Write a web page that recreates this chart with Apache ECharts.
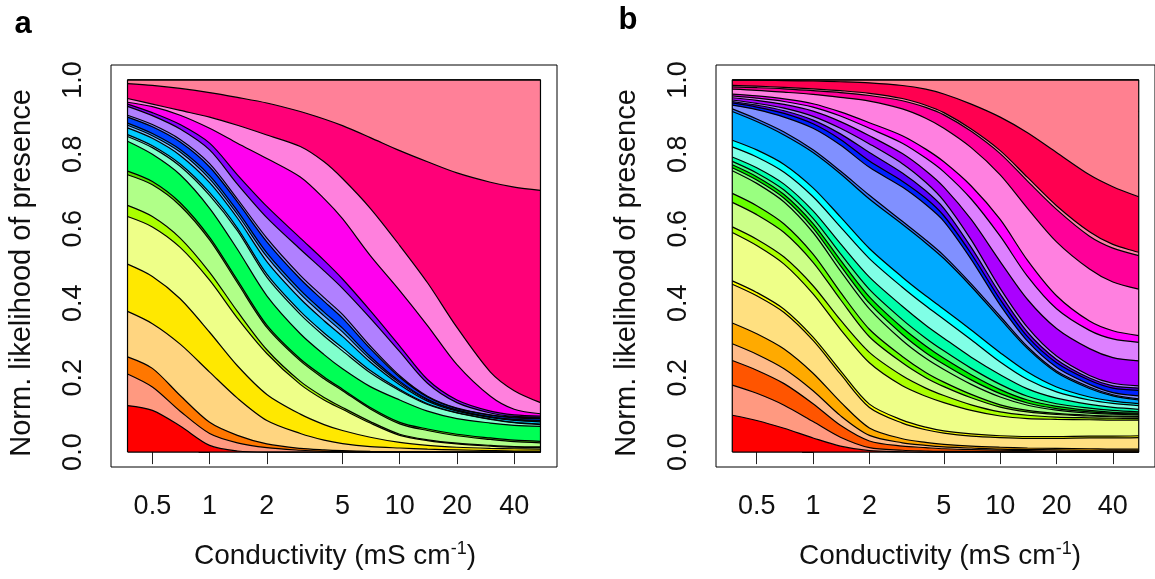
<!DOCTYPE html>
<html>
<head>
<meta charset="utf-8">
<script src="https://cdn.jsdelivr.net/npm/echarts@6/dist/echarts.min.js"></script>
<style>
  html, body { margin: 0; padding: 0; background: #ffffff; }
  #chart { width: 1155px; height: 579px; }
</style>
</head>
<body>
<div id="chart"></div>
<script>
// Conductivity values (mS cm-1) at which every band edge is given
const conductivity = [0.37, 0.5, 0.7, 1, 1.4, 2, 3, 4, 5, 7, 10, 14, 20, 30, 40, 55];
const xTicks = [0.5, 1, 2, 5, 10, 20, 40];
const yTicks = [0, 0.2, 0.4, 0.6, 0.8, 1.0];

// ---- Panel a: cumulative upper edge of each band (top band first) ----
const a_moina    = [1, 1, 1, 1, 1, 1, 1, 1, 1, 1, 1, 1, 1, 1, 1, 1];
const a_arcto    = [0.990, 0.985, 0.977, 0.966, 0.953, 0.938, 0.915, 0.895, 0.877, 0.845, 0.810, 0.780, 0.750, 0.725, 0.712, 0.703];
const a_pink     = [0.950, 0.935, 0.918, 0.900, 0.878, 0.852, 0.821, 0.780, 0.735, 0.655, 0.555, 0.455, 0.335, 0.215, 0.165, 0.133];
const a_magenta  = [0.940, 0.928, 0.905, 0.870, 0.830, 0.789, 0.739, 0.681, 0.627, 0.528, 0.434, 0.340, 0.235, 0.150, 0.115, 0.103];
const a_violet   = [0.935, 0.912, 0.880, 0.830, 0.745, 0.660, 0.575, 0.515, 0.465, 0.380, 0.285, 0.195, 0.140, 0.110, 0.100, 0.097];
const a_lpurple  = [0.929, 0.904, 0.868, 0.812, 0.720, 0.630, 0.545, 0.487, 0.440, 0.360, 0.270, 0.185, 0.133, 0.105, 0.096, 0.094];
const a_peri     = [0.905, 0.880, 0.840, 0.775, 0.680, 0.575, 0.475, 0.415, 0.370, 0.285, 0.205, 0.150, 0.118, 0.100, 0.094, 0.092];
const a_blue     = [0.900, 0.874, 0.833, 0.766, 0.672, 0.565, 0.465, 0.405, 0.360, 0.278, 0.201, 0.148, 0.117, 0.099, 0.092, 0.090];
const a_steel    = [0.884, 0.856, 0.813, 0.743, 0.648, 0.535, 0.435, 0.376, 0.333, 0.257, 0.190, 0.142, 0.113, 0.095, 0.088, 0.085];
const a_lblue    = [0.878, 0.850, 0.806, 0.734, 0.639, 0.525, 0.425, 0.366, 0.323, 0.250, 0.186, 0.140, 0.112, 0.094, 0.087, 0.083];
const a_cyan     = [0.871, 0.843, 0.797, 0.724, 0.629, 0.512, 0.412, 0.353, 0.311, 0.242, 0.181, 0.137, 0.110, 0.093, 0.085, 0.081];
const a_lcyan    = [0.853, 0.823, 0.774, 0.697, 0.602, 0.478, 0.378, 0.320, 0.280, 0.219, 0.168, 0.130, 0.106, 0.089, 0.080, 0.075];
const a_aqua     = [0.848, 0.818, 0.768, 0.690, 0.595, 0.470, 0.370, 0.312, 0.272, 0.213, 0.165, 0.128, 0.105, 0.088, 0.079, 0.074];
const a_green    = [0.835, 0.800, 0.745, 0.655, 0.545, 0.420, 0.318, 0.262, 0.224, 0.176, 0.140, 0.110, 0.090, 0.078, 0.072, 0.069];
const a_dgreen   = [0.755, 0.727, 0.670, 0.577, 0.462, 0.341, 0.250, 0.202, 0.169, 0.120, 0.080, 0.062, 0.048, 0.038, 0.032, 0.029];
const a_lgreen   = [0.745, 0.718, 0.662, 0.570, 0.455, 0.335, 0.245, 0.197, 0.165, 0.116, 0.076, 0.058, 0.044, 0.034, 0.028, 0.025];
const a_yg       = [0.663, 0.633, 0.575, 0.483, 0.378, 0.275, 0.190, 0.147, 0.120, 0.082, 0.048, 0.033, 0.024, 0.018, 0.015, 0.014];
const a_lyellow  = [0.633, 0.605, 0.550, 0.462, 0.360, 0.265, 0.182, 0.140, 0.115, 0.078, 0.045, 0.031, 0.022, 0.016, 0.013, 0.012];
const a_yellow   = [0.505, 0.472, 0.412, 0.322, 0.232, 0.155, 0.102, 0.074, 0.058, 0.040, 0.026, 0.018, 0.013, 0.010, 0.009, 0.008];
const a_lorange  = [0.378, 0.345, 0.290, 0.215, 0.145, 0.085, 0.050, 0.032, 0.023, 0.015, 0.011, 0.008, 0.006, 0.004, 0.003, 0.003];
const a_orange   = [0.256, 0.225, 0.152, 0.080, 0.045, 0.022, 0.010, 0.006, 0.004, 0.002, 0.001, 0.001, 0, 0, 0, 0];
const a_salmon   = [0.210, 0.175, 0.110, 0.050, 0.025, 0.012, 0.005, 0.002, 0.001, 0, 0, 0, 0, 0, 0, 0];
const a_red      = [0.125, 0.112, 0.070, 0.018, 0.003, 0, 0, 0, 0, 0, 0, 0, 0, 0, 0, 0];

// ---- Panel b: cumulative upper edge of each band (top band first) ----
const b_brach    = [1, 1, 1, 1, 1, 1, 1, 1, 1, 1, 1, 1, 1, 1, 1, 1];
const b_crimson  = [0.999, 0.999, 0.998, 0.997, 0.995, 0.992, 0.985, 0.975, 0.962, 0.935, 0.900, 0.858, 0.805, 0.745, 0.713, 0.686];
const b_lpink    = [0.985, 0.983, 0.980, 0.976, 0.971, 0.964, 0.950, 0.932, 0.912, 0.868, 0.810, 0.738, 0.662, 0.592, 0.558, 0.537];
const b_hotpink  = [0.981, 0.979, 0.976, 0.971, 0.966, 0.958, 0.944, 0.926, 0.906, 0.862, 0.802, 0.728, 0.652, 0.580, 0.548, 0.528];
const b_pink     = [0.975, 0.972, 0.967, 0.961, 0.953, 0.943, 0.922, 0.897, 0.870, 0.818, 0.745, 0.655, 0.565, 0.492, 0.457, 0.438];
const b_magenta  = [0.962, 0.957, 0.949, 0.936, 0.914, 0.885, 0.850, 0.814, 0.780, 0.715, 0.625, 0.515, 0.420, 0.352, 0.326, 0.313];
const b_lpurple  = [0.957, 0.951, 0.942, 0.927, 0.903, 0.870, 0.830, 0.790, 0.753, 0.680, 0.580, 0.472, 0.385, 0.327, 0.304, 0.295];
const b_violet   = [0.952, 0.945, 0.934, 0.916, 0.888, 0.850, 0.802, 0.756, 0.712, 0.625, 0.512, 0.410, 0.332, 0.278, 0.254, 0.245];
const b_lavender = [0.946, 0.937, 0.924, 0.902, 0.870, 0.828, 0.775, 0.725, 0.675, 0.570, 0.440, 0.335, 0.258, 0.206, 0.185, 0.178];
const b_bviolet  = [0.942, 0.932, 0.917, 0.892, 0.855, 0.805, 0.750, 0.702, 0.655, 0.550, 0.425, 0.322, 0.249, 0.199, 0.178, 0.172];
const b_blue     = [0.938, 0.927, 0.910, 0.882, 0.840, 0.782, 0.728, 0.682, 0.635, 0.533, 0.410, 0.310, 0.240, 0.193, 0.172, 0.166];
const b_peri     = [0.932, 0.920, 0.900, 0.870, 0.825, 0.765, 0.712, 0.665, 0.620, 0.518, 0.395, 0.298, 0.228, 0.182, 0.160, 0.151];
const b_steel    = [0.922, 0.895, 0.860, 0.812, 0.755, 0.690, 0.620, 0.570, 0.528, 0.452, 0.365, 0.283, 0.218, 0.175, 0.154, 0.143];
const b_azure    = [0.915, 0.888, 0.852, 0.805, 0.748, 0.680, 0.612, 0.562, 0.520, 0.445, 0.358, 0.278, 0.214, 0.171, 0.151, 0.140];
const b_cyan     = [0.838, 0.812, 0.773, 0.710, 0.632, 0.547, 0.470, 0.420, 0.384, 0.328, 0.267, 0.215, 0.175, 0.148, 0.137, 0.130];
const b_lcyan    = [0.820, 0.793, 0.752, 0.686, 0.605, 0.520, 0.443, 0.393, 0.357, 0.302, 0.242, 0.195, 0.162, 0.140, 0.131, 0.125];
const b_seagreen = [0.793, 0.764, 0.720, 0.648, 0.560, 0.470, 0.392, 0.341, 0.306, 0.255, 0.208, 0.170, 0.145, 0.128, 0.120, 0.115];
const b_green3   = [0.781, 0.750, 0.704, 0.628, 0.533, 0.437, 0.356, 0.306, 0.272, 0.225, 0.182, 0.150, 0.130, 0.118, 0.112, 0.108];
const b_green2   = [0.772, 0.740, 0.692, 0.614, 0.516, 0.417, 0.334, 0.285, 0.252, 0.208, 0.168, 0.140, 0.123, 0.112, 0.107, 0.105];
const b_green1   = [0.764, 0.731, 0.682, 0.602, 0.501, 0.400, 0.316, 0.267, 0.236, 0.194, 0.157, 0.132, 0.117, 0.108, 0.104, 0.102];
const b_lgreen   = [0.756, 0.722, 0.672, 0.590, 0.487, 0.385, 0.300, 0.252, 0.222, 0.182, 0.148, 0.126, 0.113, 0.105, 0.102, 0.100];
const b_bgreen   = [0.695, 0.662, 0.613, 0.532, 0.430, 0.330, 0.257, 0.214, 0.188, 0.155, 0.127, 0.112, 0.104, 0.099, 0.097, 0.096];
const b_lyg      = [0.671, 0.638, 0.590, 0.510, 0.410, 0.310, 0.240, 0.200, 0.176, 0.146, 0.121, 0.108, 0.101, 0.097, 0.095, 0.094];
const b_yg       = [0.605, 0.572, 0.524, 0.447, 0.355, 0.268, 0.205, 0.172, 0.152, 0.127, 0.108, 0.099, 0.094, 0.092, 0.091, 0.090];
const b_lyellow  = [0.590, 0.555, 0.505, 0.425, 0.330, 0.240, 0.178, 0.150, 0.133, 0.112, 0.097, 0.090, 0.088, 0.087, 0.086, 0.086];
const b_yellow   = [0.460, 0.429, 0.384, 0.309, 0.219, 0.129, 0.086, 0.067, 0.057, 0.049, 0.044, 0.042, 0.042, 0.043, 0.043, 0.044];
const b_lorange  = [0.451, 0.420, 0.375, 0.300, 0.210, 0.120, 0.078, 0.060, 0.051, 0.043, 0.039, 0.037, 0.037, 0.038, 0.038, 0.039];
const b_orange   = [0.347, 0.318, 0.277, 0.212, 0.135, 0.065, 0.036, 0.026, 0.021, 0.016, 0.013, 0.011, 0.010, 0.009, 0.008, 0.008];
const b_peach    = [0.291, 0.263, 0.224, 0.165, 0.098, 0.045, 0.025, 0.018, 0.014, 0.011, 0.008, 0.007, 0.006, 0.005, 0.005, 0.005];
const b_dorange  = [0.246, 0.220, 0.184, 0.130, 0.072, 0.030, 0.016, 0.012, 0.009, 0.007, 0.005, 0.004, 0.003, 0.003, 0.003, 0.003];
const b_salmon   = [0.180, 0.158, 0.126, 0.082, 0.040, 0.012, 0.005, 0.003, 0.002, 0.002, 0.001, 0.001, 0, 0, 0, 0];
const b_red      = [0.099, 0.085, 0.064, 0.038, 0.016, 0.004, 0.001, 0, 0, 0, 0, 0, 0, 0, 0, 0];

// Band fill colours, drawn from the top band down
const panelA = [
  [a_moina, '#FF8098'], [a_arcto, '#FF0078'], [a_pink, '#FF80DD'], [a_magenta, '#FF00EE'],
  [a_violet, '#8800FF'], [a_lpurple, '#B080FF'], [a_peri, '#8080FF'], [a_blue, '#0044FF'],
  [a_steel, '#2288FF'], [a_lblue, '#80C0FF'], [a_cyan, '#00CCFF'], [a_lcyan, '#80F0FF'],
  [a_aqua, '#80FFCC'], [a_green, '#00FF55'], [a_dgreen, '#55DD00'], [a_lgreen, '#B0FF88'],
  [a_yg, '#AAFF00'], [a_lyellow, '#EEFF88'], [a_yellow, '#FFE800'], [a_lorange, '#FFD580'],
  [a_orange, '#FF7700'], [a_salmon, '#FF9980'], [a_red, '#FF0000']
];
const panelB = [
  [b_brach, '#FF8090'], [b_crimson, '#FF0050'], [b_lpink, '#FF80A8'], [b_hotpink, '#FF0099'],
  [b_pink, '#FF80E0'], [b_magenta, '#FF00FF'], [b_lpurple, '#DD80FF'], [b_violet, '#AA00FF'],
  [b_lavender, '#AA80FF'], [b_bviolet, '#5500FF'], [b_blue, '#0022FF'], [b_peri, '#8090FF'],
  [b_steel, '#3377FF'], [b_azure, '#00AAFF'], [b_cyan, '#00FFFF'], [b_lcyan, '#80FFE6'],
  [b_seagreen, '#00FFAA'], [b_green3, '#40FF80'], [b_green2, '#00EE00'], [b_green1, '#80FF80'],
  [b_lgreen, '#99FF80'], [b_bgreen, '#66FF00'], [b_lyg, '#CCFF88'], [b_yg, '#AAFF00'],
  [b_lyellow, '#EEFF88'], [b_yellow, '#FFFF00'], [b_lorange, '#FFE080'], [b_orange, '#FFAA00'],
  [b_peach, '#FFBB88'], [b_dorange, '#FF5500'], [b_salmon, '#FF9980'], [b_red, '#FF0000']
];

const FONT = '"Liberation Sans", Arial, Helvetica, sans-serif';
const logX = conductivity.map(c => Math.log10(c));
const lo = logX[0], hi = logX[logX.length - 1];
const pad = 0.04 * (hi - lo);

function tickLabel(v) {
  return String(+Math.pow(10, v).toPrecision(2));
}

function axesFor(i) {
  return {
    x: {
      type: 'value', gridIndex: i, min: lo - pad, max: hi + pad,
      axisLine: { show: false }, splitLine: { show: false },
      axisTick: { show: true, length: 12, customValues: xTicks.map(Math.log10), lineStyle: { color: '#222', width: 1 } },
      axisLabel: { customValues: xTicks.map(Math.log10), formatter: tickLabel, fontSize: 27, fontFamily: FONT, color: '#111', margin: 26 }
    },
    y: {
      type: 'value', gridIndex: i, min: -0.04, max: 1.04,
      axisLine: { show: false }, splitLine: { show: false },
      axisTick: { show: true, length: 11, customValues: yTicks, lineStyle: { color: '#222', width: 1 } },
      axisLabel: { customValues: yTicks, rotate: 90, formatter: v => v.toFixed(1), fontSize: 27, fontFamily: FONT, color: '#111', margin: 24 }
    }
  };
}

function bandSeries(bands, idx) {
  const out = bands.map(([edge, color]) => ({
    type: 'line', xAxisIndex: idx, yAxisIndex: idx,
    data: logX.map((x, k) => [x, edge[k]]),
    smooth: 0.3, symbol: 'none', silent: true,
    lineStyle: { color: '#000', width: 1.2 },
    areaStyle: { color: color, opacity: 1, origin: 'auto' }
  }));
  // outline of the stacked region
  out.push({
    type: 'line', xAxisIndex: idx, yAxisIndex: idx, symbol: 'none', silent: true,
    data: [[lo, 0], [lo, 1], [hi, 1], [hi, 0], [lo, 0]],
    lineStyle: { color: '#000', width: 1.2 }
  });
  return out;
}

const ax0 = axesFor(0), ax1 = axesFor(1);
const chart = echarts.init(document.getElementById('chart'), null, { renderer: 'canvas' });

const xTitle = (cx) => ({
  type: 'text', x: cx, y: 556,
  style: {
    text: '{t|Conductivity (mS cm}{s|-1}{t|)}',
    align: 'center', verticalAlign: 'middle',
    rich: {
      t: { fontSize: 28, fontFamily: FONT, fill: '#111', lineHeight: 32 },
      s: { fontSize: 18, fontFamily: FONT, fill: '#111', verticalAlign: 'top', lineHeight: 32, padding: [0, 0, 10, 0] }
    }
  }
});
const yTitle = (cx) => ({
  type: 'text', x: cx, y: 273, rotation: Math.PI / 2,
  style: { text: 'Norm. likelihood of presence', font: '29px ' + FONT, fill: '#111', align: 'center', verticalAlign: 'middle' }
});
const note = (x, y, t) => ({
  type: 'text', x: x, y: y,
  style: { text: t, font: 'italic 16px ' + FONT, fill: '#111', align: 'center', verticalAlign: 'top' }
});

chart.setOption({
  animation: false,
  backgroundColor: '#ffffff',
  grid: [
    { left: 111, top: 65, width: 446, height: 402, show: true, borderColor: '#000', borderWidth: 1, backgroundColor: 'transparent', containLabel: false },
    { left: 716, top: 65, width: 446, height: 402, show: true, borderColor: '#000', borderWidth: 1, backgroundColor: 'transparent', containLabel: false }
  ],
  xAxis: [ax0.x, ax1.x],
  yAxis: [ax0.y, ax1.y],
  series: bandSeries(panelA, 0).concat(bandSeries(panelB, 1)),
  graphic: [
    { type: 'text', x: 23, y: 9, style: { text: 'a', font: 'bold 31px ' + FONT, fill: '#000', align: 'center', verticalAlign: 'top' } },
    { type: 'text', x: 628, y: 5, style: { text: 'b', font: 'bold 31px ' + FONT, fill: '#000', align: 'center', verticalAlign: 'top' } },
    yTitle(22), yTitle(627),
    xTitle(335), xTitle(940),
    note(464, 103, 'Moina brachiata'),
    note(466, 217, 'Arctodiaptomus'),
    note(466, 235.5, 'spinosus'),
    note(1084, 88, 'Brachionus'),
    note(1084, 106.5, 'asplanchnoides')
  ]
});
</script>
</body>
</html>
